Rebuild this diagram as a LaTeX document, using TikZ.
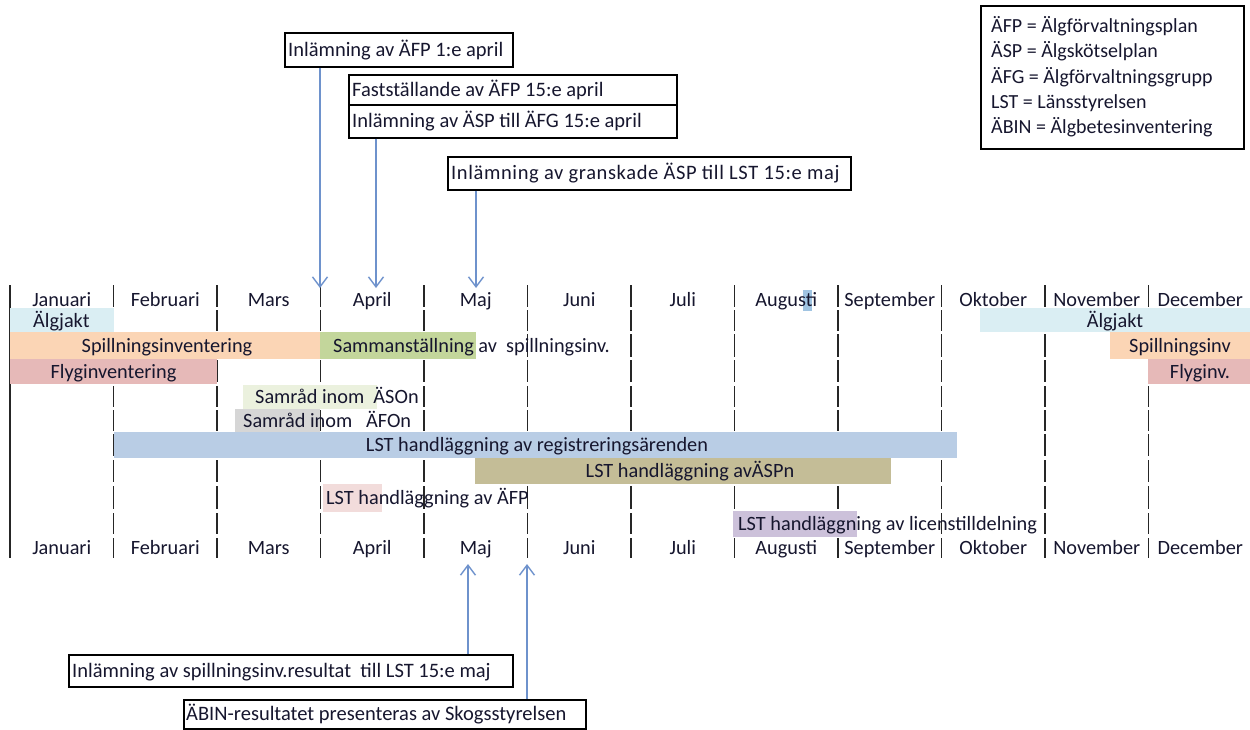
\documentclass[tikz,border=0pt]{standalone}
\usepackage{fontspec}
\setmainfont{Carlito}
\usetikzlibrary{arrows.meta}
\definecolor{txt}{RGB}{22,22,46}
\definecolor{arrc}{RGB}{110,146,204}
\definecolor{cjakt}{RGB}{218,238,243}
\definecolor{cspill}{RGB}{251,213,181}
\definecolor{csamm}{RGB}{195,214,155}
\definecolor{cflyg}{RGB}{230,185,184}
\definecolor{caso}{RGB}{235,241,222}
\definecolor{cafo}{RGB}{214,214,214}
\definecolor{creg}{RGB}{185,205,229}
\definecolor{casp}{RGB}{196,189,151}
\definecolor{cafp}{RGB}{242,220,219}
\definecolor{clic}{RGB}{204,193,218}
\definecolor{csel}{RGB}{160,196,226}
\begin{document}
\begin{tikzpicture}[x=1pt,y=-1pt,
  lbl/.style={font=\fontsize{20.3}{22}\selectfont, text=txt, inner sep=0pt, text height=12.5pt, text depth=0pt},
  gridline/.style={line width=1.6pt, draw=black!85},
  boxnode/.style={draw=black, line width=1.5pt, anchor=north west, inner sep=0pt},
  boxtxt/.style={font=\fontsize{20.5}{22}\selectfont, text=txt, inner sep=0pt, text height=12.5pt, text depth=0pt, anchor=west},
  arr/.style={draw=arrc, line width=1.4pt, -{Straight Barb[length=10pt,width=15pt,line width=1.4pt]}}]
\useasboundingbox (0,0) rectangle (1250,729);

% grid lines
\draw[gridline] (10,285) -- (10,558);
\foreach \k in {1,...,11}{
  \foreach \a/\b in {285/307,310/331,334/357,360/382,386/407,410/431,434/456,460/482,486/509,513/534,538/558}{
    \draw[gridline] ({10+103.5*\k},\a) -- ({10+103.5*\k},\b);
  }
}

% bars
\fill[csel] (803,290) rectangle (812,311);
\fill[cjakt] (10,308) rectangle (114,332);
\fill[cjakt] (980,308) rectangle (1250,332);
\fill[cspill] (10,332) rectangle (320,359);
\fill[csamm] (320,332) rectangle (476,359);
\fill[cspill] (1110,332) rectangle (1250,359);
\fill[cflyg] (10,359) rectangle (217,384);
\fill[cflyg] (1148,359) rectangle (1250,384);
\fill[caso] (243,385) rectangle (377,409);
\fill[cafo] (235,409) rectangle (320,433);
\fill[creg] (114,432) rectangle (957,458);
\fill[casp] (475,458) rectangle (891,484);
\fill[cafp] (323,484) rectangle (382,512);
\fill[clic] (733,511) rectangle (857,537);

% month labels
\foreach \m [count=\i from 0] in {Januari,Februari,Mars,April,Maj,Juni,Juli,Augusti,September,Oktober,November,December}{
  \node[lbl] (mt\i) at ({61.75+103.5*\i},300) {\m};
  \node[lbl] (mb\i) at ({61.75+103.5*\i},548) {\m};
}

% row texts
\node[lbl, anchor=west] (jakt1) at (33,321) {Älgjakt};
\node[lbl] (jakt2) at (1115,321) {Älgjakt};
\node[lbl] (spill1) at (167,346) {Spillningsinventering};
\node[lbl, anchor=west] (samm) at (333,346) {Sammanställning av\ \ spillningsinv.};
\node[lbl] (spill2) at (1180,346) {Spillningsinv};
\node[lbl] (flyg1) at (113.5,372) {Flyginventering};
\node[lbl] (flyg2) at (1200,372) {Flyginv.};
\node[lbl, anchor=west] (aso) at (255,397) {Samråd inom\ \ ÄSOn};
\node[lbl, anchor=west] (afo) at (243,421) {Samråd inom\ \ \ ÄFOn};
\node[lbl] (reg) at (537,445) {LST handläggning av registreringsärenden};
\node[lbl] (asp) at (690,471) {LST handläggning avÄSPn};
\node[lbl, anchor=west] (afp) at (326,498) {LST handläggning av ÄFP};
\node[lbl, anchor=west] (lic) at (738,524) {LST handläggning av licenstilldelning};

% top boxes
\node[boxnode, minimum width=228pt, minimum height=34pt] (b1) at (284,32) {};
\node[boxtxt] (b1t) at ([xshift=4pt]b1.west) {Inlämning av ÄFP 1:e april};
\node[boxnode, minimum width=328pt, minimum height=30pt] (b2) at (348,74) {};
\node[boxtxt] (b2t) at ([xshift=4pt]b2.west) {Fastställande av ÄFP 15:e april};
\node[boxnode, minimum width=328pt, minimum height=33pt] (b3) at (348,104) {};
\node[boxtxt] (b3t) at ([xshift=4pt]b3.west) {Inlämning av ÄSP till ÄFG 15:e april};
\node[boxnode, minimum width=403pt, minimum height=33pt] (b4) at (447,156) {};
\node[boxtxt, font=\fontsize{20.5}{22}\selectfont\addfontfeature{LetterSpace=3}] (b4t) at ([xshift=4pt]b4.west) {Inlämning av granskade ÄSP till LST 15:e maj};

% bottom boxes
\node[boxnode, minimum width=444pt, minimum height=32pt] (c1) at (68,654) {};
\node[boxtxt] (c1t) at ([xshift=4pt]c1.west) {Inlämning av spillningsinv.resultat\ \ till LST 15:e maj};
\node[boxnode, minimum width=402pt, minimum height=29pt] (c2) at (183,699) {};
\node[boxtxt] (c2t) at ([xshift=3pt]c2.west) {ÄBIN-resultatet presenteras av Skogsstyrelsen};

% legend
\node[boxnode, minimum width=263pt, minimum height=143pt] (leg) at (980,5) {};
\node[anchor=north west, align=left, inner sep=0pt, font=\fontsize{20}{25.4}\selectfont, text=txt] (legtxt) at (991,16)
  {ÄFP = Älgförvaltningsplan\\ ÄSP = Älgskötselplan\\ ÄFG = Älgförvaltningsgrupp\\ LST = Länsstyrelsen\\ ÄBIN = Älgbetesinventering};

% arrow targets
\coordinate (t1) at (320,288);
\coordinate (t2) at (376,288);
\coordinate (t3) at (476,288);
\coordinate (t4) at (468,564);
\coordinate (t5) at (527,564);

\draw[arr] (b1.south -| t1) -- (t1);
\draw[arr] (b3.south -| t2) -- (t2);
\draw[arr] (b4.south -| t3) -- (t3);
\draw[arr] (c1.north -| t4) -- (t4);
\draw[arr] (c2.north -| t5) -- (t5);
\end{tikzpicture}
\end{document}
